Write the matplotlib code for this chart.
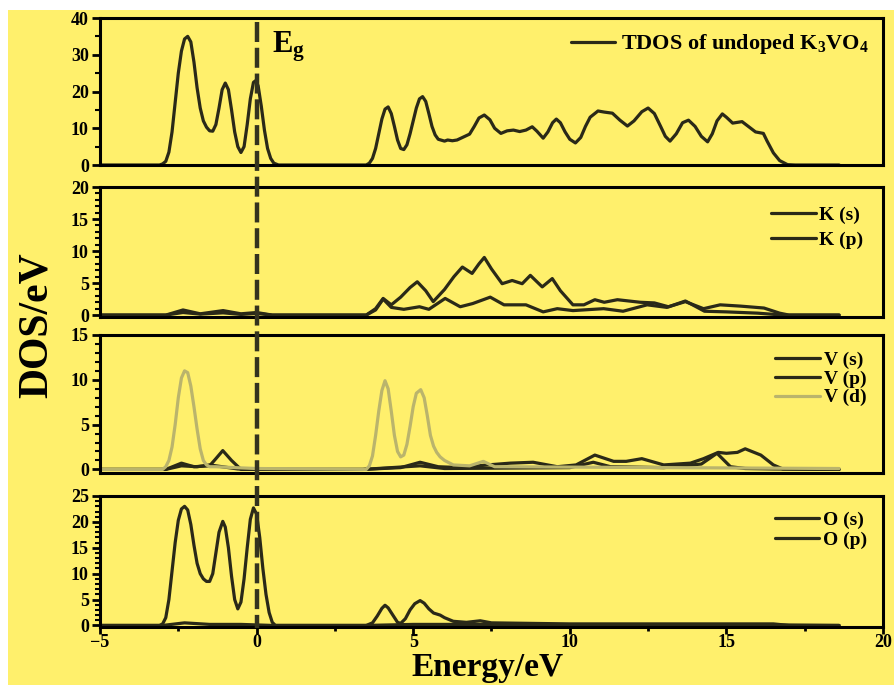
import matplotlib
matplotlib.use("Agg")
import matplotlib.pyplot as plt
from matplotlib.lines import Line2D
from matplotlib.patches import Rectangle
from matplotlib.ticker import MultipleLocator
import matplotlib.transforms as mtransforms

# ---- data (energy in eV, DOS in states/eV) ----
tdos_e = [-5.0, -3.1, -3.0, -2.9, -2.8, -2.7, -2.6, -2.5, -2.4, -2.3, -2.2, -2.1, -2.0, -1.9,
          -1.8, -1.7, -1.6, -1.5, -1.4, -1.3, -1.2, -1.1, -1.0, -0.9, -0.8, -0.7, -0.6, -0.5,
          -0.4, -0.3, -0.2, -0.1, -0.02, 0.05, 0.15, 0.25, 0.35, 0.45, 0.55, 0.7,
          3.5, 3.6, 3.7, 3.8, 3.9, 4.0, 4.1, 4.2, 4.3, 4.4, 4.5, 4.6, 4.7, 4.8, 4.9, 5.0,
          5.1, 5.2, 5.3, 5.4, 5.5, 5.6, 5.7, 5.8, 6.0, 6.1, 6.25, 6.4, 6.6, 6.8, 6.95, 7.1,
          7.27, 7.45, 7.6, 7.8, 8.0, 8.2, 8.4, 8.6, 8.8, 8.95, 9.15, 9.3, 9.45, 9.57, 9.7,
          9.85, 10.0, 10.18, 10.35, 10.5, 10.65, 10.9, 11.1, 11.36, 11.6, 11.84, 12.05, 12.3,
          12.5, 12.7, 12.9, 13.05, 13.2, 13.4, 13.6, 13.79, 14.0, 14.2, 14.4, 14.55, 14.7,
          14.87, 15.0, 15.2, 15.5, 15.7, 15.93, 16.18, 16.3, 16.5, 16.7, 16.95, 17.2, 18.6]
tdos_v = [0, 0, 0.3, 1, 3.5, 9, 17, 25, 31, 34.3, 35, 33.5, 28, 21,
          15.5, 12, 10.3, 9.3, 9.2, 11, 15.5, 20.5, 22.3, 20.5, 15, 9, 5, 3.4,
          5, 11, 18, 22.5, 23, 21.5, 16, 9.5, 4.5, 1.8, 0.5, 0,
          0, 0.5, 1.8, 4.5, 8.5, 12.5, 15.2, 15.8, 14, 10.5, 6.8, 4.5, 4.2, 5.5, 8.5, 12,
          15.5, 18, 18.6, 17.3, 14, 10.5, 8.2, 7, 6.5, 6.8, 6.6, 6.8, 7.6, 8.4, 10.5, 12.8,
          13.6, 12.3, 10, 8.6, 9.3, 9.5, 9.1, 9.5, 10.4, 9.2, 7.3, 9, 11.5, 12.5, 11.5,
          9, 7, 6.0, 7.5, 10.5, 13, 14.7, 14.4, 14.1, 12.2, 10.6, 12, 14.5,
          15.5, 14, 10.5, 7.8, 6.5, 8.5, 11.5, 12.2, 10.5, 7.8, 6.3, 8.5, 12,
          13.9, 13, 11.4, 11.8, 10.5, 9.0, 8.6, 6.5, 3.3, 1.2, 0.1, 0, 0]

ks_e = [-5.0, -2.9, -2.35, -1.8, -1.07, -0.5, 0.0, 0.5, 3.5, 3.8, 4.04, 4.3, 4.7, 5.2, 5.5,
        6.02, 6.5, 6.9, 7.46, 7.9, 8.6, 9.15, 9.6, 10.1, 11.08, 11.7, 12.47, 13.1, 13.69,
        14.3, 15.0, 16.0, 16.8, 18.6]
ks_v = [0, 0, 0.4, 0.15, 0.35, 0.1, 0.25, 0, 0, 0.8, 2.5, 1.2, 0.9, 1.3, 0.9,
        2.6, 1.3, 1.8, 2.8, 1.6, 1.6, 0.5, 1.0, 0.7, 1.0, 0.6, 1.6, 1.2, 2.2,
        0.6, 0.5, 0.3, 0, 0]

kp_e = [-5.0, -2.9, -2.35, -1.8, -1.07, -0.5, 0.0, 0.5, 3.5, 3.8, 4.04, 4.3, 4.6, 4.9,
        5.13, 5.4, 5.64, 6.0, 6.3, 6.57, 6.88, 7.1, 7.27, 7.5, 7.84, 8.16, 8.48, 8.74,
        9.12, 9.44, 9.7, 10.1, 10.45, 10.8, 11.1, 11.52, 12.25, 12.7, 13.15, 13.69,
        14.27, 14.8, 15.45, 16.2, 16.7, 17.0, 18.6]
kp_v = [0, 0, 0.8, 0.2, 0.7, 0.2, 0.4, 0, 0, 1.0, 2.6, 1.6, 2.8, 4.3,
        5.2, 3.8, 2.1, 4.0, 6.0, 7.5, 6.5, 8.0, 9.0, 7.2, 4.9, 5.4, 4.9, 6.2,
        4.4, 5.7, 3.8, 1.6, 1.6, 2.4, 2.0, 2.4, 2.0, 1.9, 1.3, 2.1,
        1.0, 1.6, 1.4, 1.1, 0.3, 0, 0]

vs_e = [-5.0, -2.9, -2.4, -1.9, -1.5, -1.1, -0.6, 0.0, 3.4, 5.22, 6.0, 8.0, 10.0, 10.75,
        11.3, 13.0, 14.2, 14.7, 15.13, 15.6, 16.5, 18.6]
vs_v = [0, 0, 0.4, 0.3, 0.5, 0.3, 0.05, 0, 0, 0.4, 0.1, 0.15, 0.2, 0.8,
        0.3, 0.2, 0.6, 1.8, 0.3, 0.1, 0.05, 0]

vp_e = [-5.0, -2.9, -2.4, -2.0, -1.5, -1.3, -1.08, -0.8, -0.5, 3.4, 4.6, 5.22, 5.8, 6.5,
        7.37, 8.1, 8.83, 9.6, 10.2, 10.8, 11.4, 11.8, 12.3, 13.0, 13.85, 14.27, 14.74,
        15.0, 15.35, 15.6, 16.1, 16.5, 16.8, 18.6]
vp_v = [0, 0, 0.7, 0.3, 0.4, 1.2, 2.1, 1.0, 0, 0, 0.2, 0.8, 0.3, 0.2,
        0.5, 0.7, 0.8, 0.3, 0.5, 1.6, 0.9, 0.9, 1.2, 0.5, 0.7, 1.2, 1.9,
        1.8, 1.9, 2.3, 1.6, 0.5, 0.05, 0]

vd_e = [-5.0, -3.0, -2.9, -2.8, -2.7, -2.6, -2.5, -2.4, -2.3, -2.2, -2.1, -2.0, -1.9, -1.8,
        -1.7, -1.6, -1.5, -1.3, -0.7, 0.0, 3.5, 3.6, 3.7, 3.8, 3.9, 4.0, 4.1, 4.2, 4.3, 4.4,
        4.5, 4.6, 4.7, 4.8, 4.9, 5.0, 5.1, 5.24, 5.35, 5.45, 5.55, 5.65, 5.75, 5.86, 6.0,
        6.28, 6.8, 7.24, 7.6, 18.6]
vd_v = [0, 0, 0.3, 1, 2.5, 5, 8, 10.2, 11, 10.8, 9.3, 7, 4.5, 2.3,
        1, 0.5, 0.3, 0.3, 0.2, 0.1, 0, 0.4, 1.5, 3.8, 6.5, 8.8, 9.9, 9, 6.5, 3.8,
        2.0, 1.4, 1.6, 2.8, 4.8, 7, 8.5, 8.9, 8, 6, 3.8, 2.6, 1.9, 1.4, 1.0,
        0.5, 0.4, 0.9, 0.3, 0.1]

os_e = [-5.0, -3.0, -2.3, -1.5, -0.5, 0.5, 3.5, 5.0, 7.0, 12.0, 16.5, 18.6]
os_v = [0, 0, 0.5, 0.2, 0.2, 0, 0, 0.2, 0.2, 0.1, 0.1, 0]

op_e = [-5.0, -3.1, -3.0, -2.9, -2.8, -2.7, -2.6, -2.5, -2.4, -2.3, -2.2, -2.1, -2.0, -1.9,
        -1.8, -1.7, -1.6, -1.5, -1.4, -1.3, -1.2, -1.08, -1.0, -0.9, -0.8, -0.7, -0.6, -0.5,
        -0.4, -0.3, -0.2, -0.1, 0.0, 0.1, 0.2, 0.3, 0.4, 0.5, 0.6,
        3.5, 3.7, 3.85, 4.0, 4.1, 4.2, 4.35, 4.5, 4.6, 4.75, 4.9, 5.05, 5.22, 5.35, 5.5,
        5.65, 5.86, 6.0, 6.28, 6.7, 7.14, 7.5, 10.0, 16.5, 17.0, 18.6]
op_v = [0, 0, 0.3, 1.5, 5, 10.5, 16, 20.3, 22.5, 23, 22.3, 19.5, 15.5, 12,
        10, 9, 8.5, 8.5, 10, 14, 18, 20.1, 19, 15, 9.5, 5, 3.2, 4.5,
        9, 15, 20.5, 22.7, 21.5, 17, 11, 6, 2.5, 0.6, 0,
        0, 0.5, 1.8, 3.3, 3.9, 3.4, 2.0, 0.6, 0.4, 1.3, 3, 4.2, 4.8, 4.3, 3.2,
        2.4, 2.0, 1.5, 0.8, 0.6, 0.9, 0.5, 0.3, 0.3, 0, 0]

fermi = 0.0

# ---- style ----
bg = '#fff06c'
dark = '#2a2918'
light = '#bab46c'
plt.rcParams['font.family'] = ['Liberation Serif', 'DejaVu Serif']
plt.rcParams['font.weight'] = 'bold'
plt.rcParams['mathtext.fontset'] = 'custom'
plt.rcParams['mathtext.rm'] = 'Liberation Serif:bold'
plt.rcParams['mathtext.it'] = 'Liberation Serif:bold'
plt.rcParams['mathtext.bf'] = 'Liberation Serif:bold'
plt.rcParams['lines.solid_joinstyle'] = 'round'
plt.rcParams['lines.solid_capstyle'] = 'round'

fig = plt.figure(figsize=(8.95, 6.85), dpi=100)
fig.patch.set_facecolor('white')
fig.add_artist(Rectangle((8 / 895, 0), 1, 1 - 10 / 685, transform=fig.transFigure,
                         facecolor=bg, edgecolor='none', zorder=-10))

W, H = 895.0, 685.0
left, right = 100, 883
panels_px = [(18, 165), (187, 317), (335, 473), (496, 627)]
axes = []
for top, bot in panels_px:
    ax = fig.add_axes([left / W, 1 - bot / H, (right - left) / W, (bot - top) / H])
    ax.set_facecolor('none')
    for s in ax.spines.values():
        s.set_linewidth(2.2)
    ax.set_xlim(-5, 20)
    ax.tick_params(axis='y', which='major', direction='out', length=6, width=2, labelsize=13, pad=2)
    ax.tick_params(axis='y', which='minor', direction='out', length=3.5, width=1.5)
    ax.tick_params(axis='x', which='both', bottom=False, labelbottom=False)
    axes.append(ax)

lw = 2.3
ax1, ax2, ax3, ax4 = axes

ax1.plot(tdos_e, tdos_v, color=dark, lw=lw, label='TDOS of undoped K$_3$VO$_4$')
ax1.set_ylim(0, 40)
ax1.yaxis.set_major_locator(MultipleLocator(10))
ax1.yaxis.set_minor_locator(MultipleLocator(5))

ax2.plot(ks_e, ks_v, color=dark, lw=lw, label='K (s)')
ax2.plot(kp_e, kp_v, color=dark, lw=lw, label='K (p)')
ax2.set_ylim(-0.3, 20)
ax2.yaxis.set_major_locator(MultipleLocator(5))
ax2.yaxis.set_minor_locator(MultipleLocator(1))

ax3.plot(vs_e, vs_v, color=dark, lw=lw, label='V (s)')
ax3.plot(vp_e, vp_v, color=dark, lw=lw, label='V (p)')
ax3.plot(vd_e, vd_v, color=light, lw=lw, label='V (d)')
ax3.set_ylim(-0.4, 15)
ax3.yaxis.set_major_locator(MultipleLocator(5))
ax3.yaxis.set_minor_locator(MultipleLocator(1))

ax4.plot(os_e, os_v, color=dark, lw=lw, label='O (s)')
ax4.plot(op_e, op_v, color=dark, lw=lw, label='O (p)')
ax4.set_ylim(-0.3, 25)
ax4.yaxis.set_major_locator(MultipleLocator(5))
ax4.yaxis.set_minor_locator(MultipleLocator(1))
ax4.xaxis.set_major_locator(MultipleLocator(5))
ax4.xaxis.set_minor_locator(MultipleLocator(2.5))
ax4.tick_params(axis='x', which='major', bottom=True, labelbottom=True, direction='out',
                length=5, width=2, labelsize=13, pad=0)
ax4.tick_params(axis='x', which='minor', bottom=True, direction='out', length=3, width=2)

ax1.legend(loc='upper right', frameon=False, fontsize=16, handlelength=2.0,
           handletextpad=0.25, borderaxespad=0.25)
for ax, spacing, pad in ((ax2, 0.35, 0.6), (ax3, 0.05, 0.45), (ax4, 0.1, 0.4)):
    ax.legend(loc='upper right', frameon=False, fontsize=14, handlelength=2.3,
              handletextpad=0.2, labelspacing=spacing, borderaxespad=pad)

# Fermi level / gap marker through all panels
trans = mtransforms.blended_transform_factory(ax4.transData, fig.transFigure)
fig.add_artist(Line2D([fermi, fermi], [1 - 22 / H, 1 - 628 / H], transform=trans,
                      color='#34331f', lw=3.2, ls=(0, (4.5, 1.3))))
ax1.text(fermi + 0.5, 36.8, r'E$_{\mathrm{g}}$', fontsize=22, va='top', ha='left')

fig.text(37 / W, 1 - 325 / H, 'DOS/eV', rotation=90, fontsize=30, ha='center', va='center')
fig.text(488 / W, 1 - 676 / H, 'Energy/eV', fontsize=24, ha='center', va='baseline')

fig.savefig('out.png', dpi=100, facecolor=fig.get_facecolor())
